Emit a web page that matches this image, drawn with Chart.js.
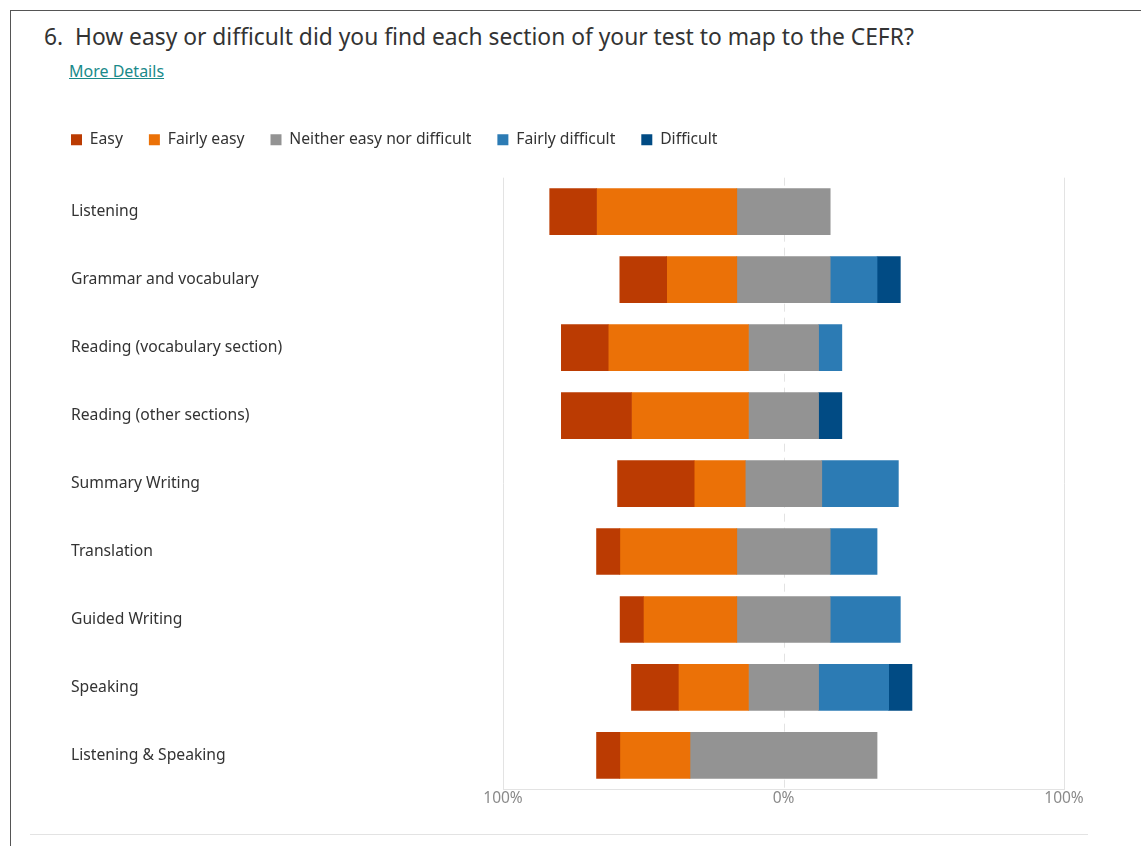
<!DOCTYPE html>
<html>
<head>
<meta charset="utf-8">
<script src="https://cdn.jsdelivr.net/npm/chart.js@4"></script>
<style>
  body { margin: 0; background: #fff; font-family: "Noto Sans", sans-serif; }
  .card { position: absolute; left: 10px; top: 10px; width: 1200px; height: 900px;
          border-top: 1px solid #555; border-left: 1px solid #555; }
  .title { position: absolute; left: 44px; top: 21px; font-size: 22.8px; color: #333; white-space: pre; }
  .more { position: absolute; left: 69px; top: 60px; font-size: 16px; color: #1a8a8a; text-decoration: underline; }
  .wrap { position: absolute; left: 35px; top: 106px; width: 1066px; height: 702px; }
  .sep { position: absolute; left: 30px; top: 834px; width: 1058px; height: 1px; background: #e3e3e3; }
</style>
</head>
<body>
<div class="card"></div>
<div class="title">6.  How easy or difficult did you find each section of your test to map to the CEFR?</div>
<div class="more">More Details</div>
<div class="wrap"><canvas id="myChart"></canvas></div>
<div class="sep"></div>
<script>
const categories = ['Listening', 'Grammar and vocabulary', 'Reading (vocabulary section)', 'Reading (other sections)',
  'Summary Writing', 'Translation', 'Guided Writing', 'Speaking', 'Listening & Speaking'];
// percent of respondents
const easy            = [16.7, 16.7, 16.7, 25.0, 27.3,  8.3,  8.3, 16.7,  8.3];
const fairlyEasy      = [50.0, 25.0, 50.0, 41.7, 18.2, 41.7, 33.3, 25.0, 25.0];
const neither         = [33.3, 33.3, 25.0, 25.0, 27.3, 33.3, 33.3, 25.0, 66.7];
const fairlyDifficult = [ 0.0, 16.7,  8.3,  0.0, 27.3, 16.7, 25.0, 25.0,  0.0];
const difficult       = [ 0.0,  8.3,  0.0,  8.3,  0.0,  0.0,  0.0,  8.3,  0.0];
const tickLabels = { '-100': '100%', '0': '0%', '100': '100%' };

// neutral answers centred on 0, easy to the left, difficult to the right
const seg = (a, b) => (b - a > 0 ? [a, b] : null);
const easyBars = [], fairlyEasyBars = [], neitherBars = [], fairlyDiffBars = [], diffBars = [];
categories.forEach((c, i) => {
  const half = neither[i] / 2;
  const left = -(easy[i] + fairlyEasy[i] + half);
  easyBars.push(seg(left, left + easy[i]));
  fairlyEasyBars.push(seg(left + easy[i], -half));
  neitherBars.push(seg(-half, half));
  fairlyDiffBars.push(seg(half, half + fairlyDifficult[i]));
  diffBars.push(seg(half + fairlyDifficult[i], half + fairlyDifficult[i] + difficult[i]));
});

// extra room under the legend, and legend pulled left so its first box lines up with the labels
const legendGap = {
  id: 'legendGap',
  beforeInit(chart) {
    const fit = chart.legend.fit;
    chart.legend.fit = function () {
      fit.bind(chart.legend)();
      this.height += 20;
    };
  },
  afterLayout(chart) {
    chart.legend.left -= 26;
  }
};

const zeroLine = {
  id: 'zeroLine',
  beforeDatasetsDraw(chart) {
    const x = chart.scales.x.getPixelForValue(0);
    const ctx = chart.ctx;
    ctx.save();
    ctx.strokeStyle = '#e3e3e3';
    ctx.lineWidth = 1;
    ctx.setLineDash([8, 6]);
    ctx.beginPath();
    ctx.moveTo(Math.round(x) + 0.5, chart.chartArea.top);
    ctx.lineTo(Math.round(x) + 0.5, chart.chartArea.bottom);
    ctx.stroke();
    ctx.restore();
  }
};

Chart.defaults.font.family = '"Noto Sans", sans-serif';

new Chart(document.getElementById('myChart'), {
  type: 'bar',
  data: {
    labels: categories,
    datasets: [
      { label: 'Easy', data: easyBars, backgroundColor: '#bb3b02' },
      { label: 'Fairly easy', data: fairlyEasyBars, backgroundColor: '#eb7107' },
      { label: 'Neither easy nor difficult', data: neitherBars, backgroundColor: '#939393' },
      { label: 'Fairly difficult', data: fairlyDiffBars, backgroundColor: '#2c7bb4' },
      { label: 'Difficult', data: diffBars, backgroundColor: '#014b84' }
    ]
  },
  plugins: [legendGap, zeroLine],
  options: {
    indexAxis: 'y',
    responsive: true,
    maintainAspectRatio: false,
    animation: false,
    layout: { padding: { left: 36, right: 37, top: 0, bottom: 0 } },
    datasets: { bar: { grouped: false, barThickness: 46, borderWidth: 0 } },
    plugins: {
      tooltip: { enabled: false },
      legend: {
        position: 'top',
        align: 'start',
        labels: { boxWidth: 11, boxHeight: 11, padding: 26, color: '#333', font: { size: 15.7 } }
      }
    },
    scales: {
      x: {
        min: -100, max: 100,
        afterBuildTicks(scale) { scale.ticks = [{ value: -100 }, { value: 0 }, { value: 100 }]; },
        ticks: {
          padding: 0, color: '#8a8a8a', font: { size: 15.5 },
          callback: v => tickLabels[String(v)]
        },
        grid: {
          drawTicks: false,
          color: ctx => ctx.tick && ctx.tick.value === 0 ? 'rgba(0,0,0,0)' : '#e3e3e3'
        },
        border: { display: true, color: '#e3e3e3' }
      },
      y: {
        afterFit(scale) { scale.width = 432; },
        ticks: { crossAlign: 'far', color: '#333', font: { size: 15.7 } },
        grid: { display: false },
        border: { display: false }
      }
    }
  }
});
</script>
</body>
</html>
